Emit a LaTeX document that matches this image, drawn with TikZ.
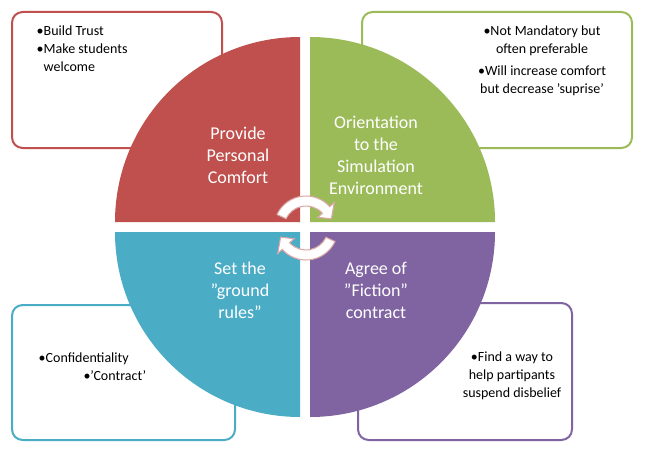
\documentclass[tikz,border=0pt]{standalone}
\usepackage{fontspec}
\setmainfont{Carlito}
\usetikzlibrary{calc}
\definecolor{qr}{HTML}{C0504D}\definecolor{qg}{HTML}{9BBB59}
\definecolor{qb}{HTML}{4BACC6}\definecolor{qp}{HTML}{8064A2}
\definecolor{pk}{HTML}{DDA9A8}
\newcommand{\dq}{\symbol{34}}\newcommand{\sq}{\symbol{39}}
\begin{document}
\begin{tikzpicture}[x=0.75pt,y=-0.75pt,
 box/.style={rounded corners=8pt,line width=1.5pt},
 ql/.style={text=white,align=center,font=\fontsize{13.5}{16.5}\selectfont},
 bt/.style={font=\fontsize{10.5}{13.5}\selectfont,align=left}]
\path[fill=white] (0,0) rectangle (645,456);
\draw[box,draw=qr] (12,12) rectangle (222,148);
\draw[box,draw=qg] (362,12) rectangle (632,148);
\draw[box,draw=qb] (12,305) rectangle (235,440);
\draw[box,draw=qp] (358,303) rectangle (572,440);
\fill[qr] (300,222) -- ++(-185,0) arc[start angle=180,end angle=270,radius=185] -- cycle;
\fill[qg] (310,222) -- ++(0,-185) arc[start angle=270,end angle=360,radius=185] -- cycle;
\fill[qb] (300,232) -- ++(-185,0) arc[start angle=180,end angle=90,radius=185] -- cycle;
\fill[qp] (310,232) -- ++(185,0) arc[start angle=0,end angle=90,radius=185] -- cycle;
\coordinate (c) at (306,228);
\draw[pk,fill=white,line width=0.8pt] ($(c)+(205:32)$) arc[start angle=205,end angle=318,radius=32] -- ($(c)+(318:38)$) -- ($(c)+(340:27)$) -- ($(c)+(318:16)$) -- ($(c)+(318:22)$) arc[start angle=318,end angle=205,radius=22] -- cycle;
\draw[pk,fill=white,line width=0.8pt] ($(c)+(25:32)$) arc[start angle=25,end angle=138,radius=32] -- ($(c)+(138:38)$) -- ($(c)+(160:27)$) -- ($(c)+(138:16)$) -- ($(c)+(138:22)$) arc[start angle=138,end angle=25,radius=22] -- cycle;
\node[ql] (l1) at (238,155) {Provide\\Personal\\Comfort};
\node[ql] (l2) at (376,155) {Orientation\\to the\\Simulation\\Environment};
\node[ql] (l3) at (240,290) {Set the\\\dq ground\\rules\dq};
\node[ql] (l4) at (376,290) {Agree of\\\dq Fiction\dq\\contract};
\node[bt,anchor=north west] (t1) at (32,21) {•Build Trust\\•Make students\\\hphantom{•}welcome};
\node[bt,align=center,anchor=north] (t2) at (542,21) {•Not Mandatory but\\often preferable\\[3pt]•Will increase comfort\\but decrease \sq suprise\sq};
\node[bt,anchor=north west] (t3) at (34,348) {•Confidentiality\\\hspace{3.2em}•\sq Contract\sq};
\node[bt,align=center,anchor=north] (t4) at (512,347) {•Find a way to\\help partipants\\suspend disbelief};
\end{tikzpicture}
\end{document}
